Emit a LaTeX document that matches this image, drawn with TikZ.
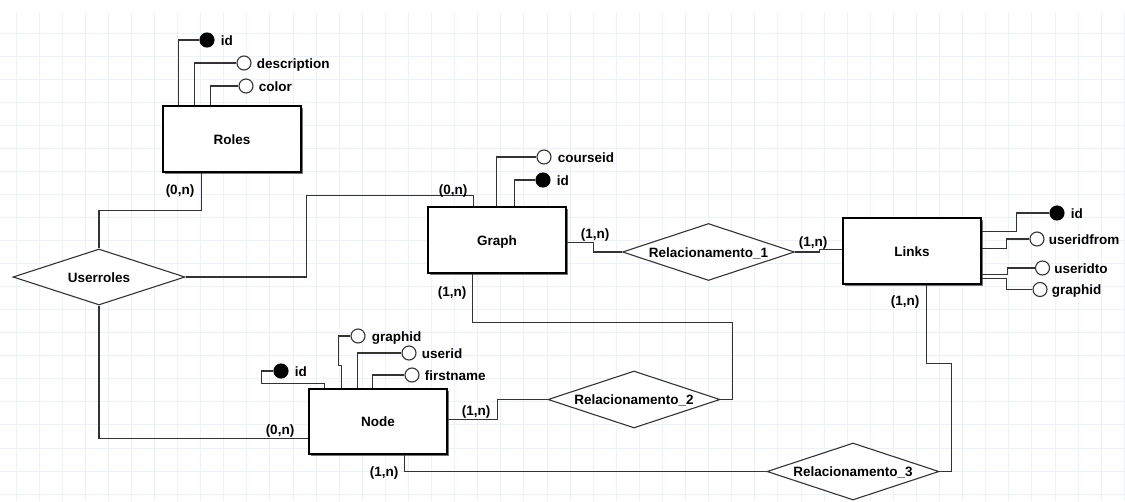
\documentclass[tikz,border=0pt]{standalone}
\usepackage{fontspec}
\setmainfont{Liberation Sans}
\usetikzlibrary{shapes.geometric,calc,shadows}
\definecolor{gridc}{HTML}{EDF2F8}
\definecolor{linec}{HTML}{333333}
\begin{document}
\begin{tikzpicture}[x=1pt,y=-1pt,
  font=\fontsize{13.5}{16}\selectfont\bfseries,
  ent/.style={draw=black, line width=1.3pt, fill=white, minimum width=138, minimum height=66, inner sep=0,
    text height=10, text depth=0,
    general shadow={fill=black!55, shadow xshift=1.6pt, shadow yshift=-1.6pt}},
  rel/.style={diamond, aspect=3, draw=linec, line width=1.1pt, fill=white, minimum width=172, minimum height=57, inner sep=0,
    text height=10, text depth=0},
  attr/.style={circle, draw=linec, line width=1.1pt, fill=white, minimum size=14, inner sep=0},
  pkey/.style={attr, fill=black, draw=black},
  lbl/.style={anchor=west, inner sep=0, text height=10, text depth=0},
  card/.style={inner sep=0, text height=10, text depth=0},
  conn/.style={draw=linec, line width=1.1pt}]
\useasboundingbox (0,0) rectangle (1125,501);
\fill[white] (0,0) rectangle (1125,501);
% grid
\foreach \i in {0,...,48} \draw[gridc, line width=1] ({16+23.09*\i},12) -- ({16+23.09*\i},501);
\foreach \j in {0,...,20} \draw[gridc, line width=1] (0,{33.3+23.04*\j}) -- (1125,{33.3+23.04*\j});

% entities
\node[ent] (roles) at (232,139) {Roles};
\node[ent] (graph) at (497,240) {Graph};
\node[ent] (links) at (912,251) {Links};
\node[ent, minimum height=65] (nd) at (378,421.5) {Node};

% relationships
\node[rel, minimum height=56] (userroles) at (99,277) {Userroles};
\node[rel] (r1) at (708.5,252) {Relacionamento\_1};
\node[rel] (r2) at (634,399.5) {Relacionamento\_2};
\node[rel] (r3) at (853,471.5) {Relacionamento\_3};

% Roles attributes
\node[pkey] (rid) at (207,40) {};
\node[attr] (rdesc) at (244,63) {};
\node[attr] (rcolor) at (246,86) {};
\node[lbl] (trid) at ($(rid.east)+(6,0)$) {id};
\node[lbl] (trdesc) at ($(rdesc.east)+(5,0)$) {description};
\node[lbl] (trcolor) at ($(rcolor.east)+(5,0)$) {color};
\draw[conn] (rid.west) -| ($(roles.north west)+(16,0)$);
\draw[conn] (rdesc.west) -| ($(roles.north west)+(32,0)$);
\draw[conn] (rcolor.west) -| ($(roles.north west)+(48,0)$);

% Graph attributes
\node[attr] (gcourse) at (544,157) {};
\node[pkey] (gid) at (543,180) {};
\node[lbl] (tgcourse) at ($(gcourse.east)+(6,0)$) {courseid};
\node[lbl] (tgid) at ($(gid.east)+(6,0)$) {id};
\draw[conn] (gcourse.west) -| ($(graph.north west)+(69,0)$);
\draw[conn] (gid.west) -| ($(graph.north west)+(87,0)$);

% Links attributes
\node[pkey] (lid) at (1057,213) {};
\node[attr] (luf) at (1037,239) {};
\node[attr] (lut) at (1042.5,268) {};
\node[attr] (lgid) at (1040,289.5) {};
\node[lbl] (tlid) at ($(lid.east)+(6,0)$) {id};
\node[lbl] (tluf) at ($(luf.east)+(4,0)$) {useridfrom};
\node[lbl] (tlut) at ($(lut.east)+(4,0)$) {useridto};
\node[lbl] (tlgid) at ($(lgid.east)+(4,0)$) {graphid};
\draw[conn] (lid.west) -| ($(links.north east)+(35,14)$) -- ($(links.north east)+(0,14)$);
\draw[conn] (luf.west) -| ($(links.north east)+(25,31)$) -- ($(links.north east)+(0,31)$);
\draw[conn] (lut.west) -| ($(links.north east)+(26,57)$) -- ($(links.north east)+(0,57)$);
\draw[conn] (lgid.west) -| ($(links.north east)+(25,61)$) -- ($(links.north east)+(0,61)$);

% Node attributes
\node[pkey] (nid) at (281,371) {};
\node[attr] (ngraph) at (358,336) {};
\node[attr] (nuser) at (409,353) {};
\node[attr] (nfirst) at (412,375) {};
\node[lbl] (tnid) at ($(nid.east)+(6,0)$) {id};
\node[lbl] (tngraph) at ($(ngraph.east)+(6,0)$) {graphid};
\node[lbl] (tnuser) at ($(nuser.east)+(5,0)$) {userid};
\node[lbl] (tnfirst) at ($(nfirst.east)+(5,0)$) {firstname};
\draw[conn] (nid.west) -- ++(-12,0) |- ($(nd.north west)+(16,-5)$) -- ($(nd.north west)+(16,0)$);
\draw[conn] (ngraph.west) -| ($(nd.north west)+(30,-23)$) -| ($(nd.north west)+(33,0)$);
\draw[conn] (nuser.west) -| ($(nd.north west)+(49,0)$);
\draw[conn] (nfirst.west) -| ($(nd.north west)+(64,0)$);

% relationship connectors
\draw[conn] ($(roles.south west)+(39,0)$) -- ++(0,38) -| (userroles.north);
\draw[conn] (userroles.east) -| ($(graph.north west)+(-121,-11)$) -| ($(graph.north west)+(46,0)$);
\draw[conn] (userroles.south) |- ($(nd.north west)+(0,50)$);
\draw[conn] ($(graph.north east)+(0,36)$) -- ++(27,0) |- (r1.west);
\draw[conn] (r1.east) -- ++(24,0) |- ($(links.north west)+(0,32)$);
\draw[conn] ($(graph.south west)+(45,0)$) -- ++(0,49) -| ($(r2.east)+(12,0)$) -- (r2.east);
\draw[conn] ($(nd.north east)+(0,31)$) -- ++(50,0) |- (r2.west);
\draw[conn] ($(links.south west)+(84,0)$) -- ++(0,79) -| ($(r3.east)+(12,0)$) -- (r3.east);
\draw[conn] ($(nd.south west)+(96,0)$) |- (r3.west);

% cardinalities
\node[card] (c1) at (180,189) {(0,n)};
\node[card] (c2) at (453,189) {(0,n)};
\node[card] (c3) at (452,291) {(1,n)};
\node[card] (c4) at (595,233) {(1,n)};
\node[card] (c5) at (813,241) {(1,n)};
\node[card] (c6) at (905,300) {(1,n)};
\node[card] (c7) at (280,429) {(0,n)};
\node[card] (c8) at (476,410) {(1,n)};
\node[card] (c9) at (384,471) {(1,n)};
\end{tikzpicture}
\end{document}
